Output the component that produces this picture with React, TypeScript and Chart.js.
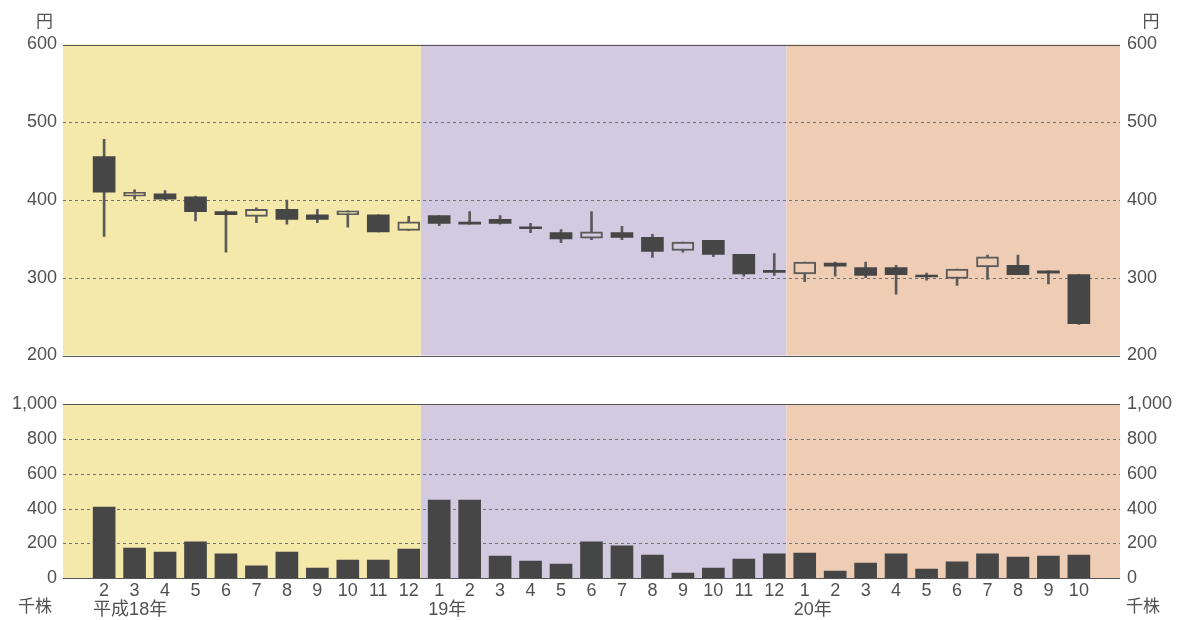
import React, { useEffect, useRef } from 'react';
import { Chart, registerables } from 'chart.js';

Chart.register(...registerables);

// ---- data ----
const months = ['2', '3', '4', '5', '6', '7', '8', '9', '10', '11', '12',
  '1', '2', '3', '4', '5', '6', '7', '8', '9', '10', '11', '12',
  '1', '2', '3', '4', '5', '6', '7', '8', '9', '10'];
const yearLabelIndex = [0, 11, 23];
const yearLabelText = ['平成18年', '19年', '20年'];

const openPrices = [456, 405, 408, 404, 385, 379, 388, 381, 381, 381, 361,
  380, 370, 375, 364, 358, 351, 358, 352, 335, 348, 330, 308,
  305, 319, 313, 313, 303, 299, 314, 316, 309, 304];
const highPrices = [478, 413, 412, 405, 387, 390, 400, 388, 386, 381, 379,
  380, 385, 380, 370, 362, 385, 366, 356, 346, 348, 330, 331,
  320, 320, 320, 316, 306, 311, 329, 329, 309, 304];
const lowPrices = [353, 401, 400, 373, 333, 371, 369, 371, 365, 359, 361,
  367, 369, 369, 358, 345, 349, 349, 326, 333, 327, 302, 303,
  295, 302, 300, 279, 297, 290, 298, 304, 292, 240];
const closePrices = [410, 410, 401, 385, 381, 388, 375, 375, 386, 359, 372,
  370, 369, 370, 363, 350, 359, 352, 334, 346, 330, 305, 307,
  320, 315, 303, 304, 301, 311, 327, 304, 306, 241];
const volumes = [410, 174, 151, 209, 140, 71, 151, 59, 105, 105, 168,
  450, 450, 128, 99, 82, 209, 186, 134, 30, 59, 111, 140,
  145, 42, 88, 140, 53, 94, 140, 122, 128, 134];

// ---- styling ----
const FONT = "'Liberation Sans', Arial, 'Noto Sans CJK JP', sans-serif";
const CJK_FONT = "'Noto Sans CJK JP', 'Liberation Sans', sans-serif";
const TEXT = '#505050';
const DARK = '#464646';
const LINE = '#555555';
const GRID = '#707070';

const X_MIN = -1.35;
const X_MAX = 33.35;
const BAND_EDGES = [X_MIN, 10.4, 22.4, X_MAX];
const BAND_COLORS = ['#F5E8AB', '#D1CAE0', '#EECDB4'];

function bandColor(i: number) {
  for (let k = 0; k < BAND_COLORS.length; k++) {
    if (i < BAND_EDGES[k + 1]) return BAND_COLORS[k];
  }
  return BAND_COLORS[BAND_COLORS.length - 1];
}

const W = 1177;
const TOP_H = 380;
const BOT_H = 240;

function panelPlugin(id: string, unit: string, unitDy: number, withX: boolean) {
  return {
    id,
    beforeDatasetsDraw(chart: any) {
      const { ctx, chartArea } = chart;
      const xs = chart.scales.x;
      const ys = chart.scales.y;
      ctx.save();
      for (let k = 0; k < BAND_COLORS.length; k++) {
        const x0 = Math.max(xs.getPixelForValue(BAND_EDGES[k]), chartArea.left);
        const x1 = Math.min(xs.getPixelForValue(BAND_EDGES[k + 1]), chartArea.right);
        ctx.fillStyle = BAND_COLORS[k];
        ctx.fillRect(x0, chartArea.top, x1 - x0, chartArea.bottom - chartArea.top);
      }
      ctx.strokeStyle = GRID;
      ctx.lineWidth = 1;
      ctx.setLineDash([3, 3]);
      const ticks = ys.ticks.map((t: any) => t.value);
      ticks.forEach((v: number) => {
        if (v === ys.min || v === ys.max) return;
        const y = Math.round(ys.getPixelForValue(v)) + 0.5;
        ctx.beginPath();
        ctx.moveTo(chartArea.left, y);
        ctx.lineTo(chartArea.right, y);
        ctx.stroke();
      });
      ctx.restore();
    },
    afterDatasetsDraw(chart: any) {
      const { ctx, chartArea } = chart;
      const xs = chart.scales.x;
      const ys = chart.scales.y;
      ctx.save();
      ctx.strokeStyle = LINE;
      ctx.lineWidth = 1.2;
      [ys.min, ys.max].forEach((v: number) => {
        const y = Math.round(ys.getPixelForValue(v)) + 0.5;
        ctx.beginPath();
        ctx.moveTo(chartArea.left, y);
        ctx.lineTo(chartArea.right, y);
        ctx.stroke();
      });
      ctx.fillStyle = TEXT;
      ctx.textBaseline = 'middle';
      ctx.textAlign = 'center';
      ctx.font = `17px ${CJK_FONT}`;
      const uy = unitDy < 0 ? chartArea.top + unitDy : chartArea.bottom + unitDy;
      const lx = unit === '円' ? chartArea.left - 18.5 : chartArea.left - 28;
      const rx = unit === '円' ? chartArea.right + 31 : chartArea.right + 23;
      ctx.fillText(unit, lx, uy);
      ctx.fillText(unit, rx, uy);
      if (withX) {
        ctx.font = `18px ${FONT}`;
        ctx.textAlign = 'center';
        months.forEach((m, i) => {
          ctx.fillText(m, xs.getPixelForValue(i), chartArea.bottom + 13);
        });
        ctx.textAlign = 'left';
        yearLabelIndex.forEach((idx, k) => {
          ctx.fillText(yearLabelText[k], xs.getPixelForValue(idx) - 11, chartArea.bottom + 32);
        });
      }
      ctx.restore();
    },
  };
}

function yAxis(position: 'left' | 'right', min: number, max: number, step: number, width: number, pad: number, fmt: (v: number) => string) {
  return {
    type: 'linear',
    position,
    min,
    max,
    grid: { display: false, drawTicks: false },
    border: { display: false },
    ticks: {
      stepSize: step,
      padding: pad,
      color: TEXT,
      font: { family: FONT, size: 18 },
      callback: (v: any) => fmt(Number(v)),
    },
    afterFit: (s: any) => { s.width = width; },
  };
}

const xAxis = { type: 'linear', min: X_MIN, max: X_MAX, display: false, offset: false, grid: { offset: false } };

export default function App() {
  const topRef = useRef<HTMLCanvasElement>(null);
  const botRef = useRef<HTMLCanvasElement>(null);

  useEffect(() => {
    const idx = months.map((_, i) => i);
    const isUp = (i: number) => closePrices[i] > openPrices[i];

    const top = new Chart(topRef.current as HTMLCanvasElement, {
      type: 'bar',
      data: {
        datasets: [
          {
            label: 'body',
            data: idx.map((i) => ({ x: i, y: [openPrices[i], closePrices[i]] })) as any,
            barThickness: 22,
            minBarLength: 2,
            grouped: false,
            borderSkipped: false,
            backgroundColor: (c: any) => (isUp(c.dataIndex) ? bandColor(c.dataIndex) : DARK),
            borderColor: '#5a5a5a',
            borderWidth: (c: any) => (isUp(c.dataIndex) ? 2 : 0),
          } as any,
          {
            label: 'wick',
            data: idx.map((i) => ({ x: i, y: [lowPrices[i], highPrices[i]] })) as any,
            barThickness: 2,
            grouped: false,
            borderSkipped: false,
            backgroundColor: '#5a5a5a',
            borderWidth: 0,
          } as any,
        ],
      },
      options: {
        animation: false,
        responsive: false,
        maintainAspectRatio: false,
        layout: { padding: { top: 44.5, bottom: TOP_H - 355.5, left: 0, right: 0 } },
        plugins: { legend: { display: false }, tooltip: { enabled: false } },
        scales: {
          x: xAxis as any,
          y: yAxis('left', 200, 600, 100, 63, 6, (v) => String(v)) as any,
          y2: yAxis('right', 200, 600, 100, W - 1120, 7, (v) => String(v)) as any,
        },
      },
      plugins: [panelPlugin('topPanel', '円', -24, false)],
    });

    const fmt = (v: number) => v.toLocaleString('en-US');
    const bot = new Chart(botRef.current as HTMLCanvasElement, {
      type: 'bar',
      data: {
        datasets: [
          {
            label: 'volume',
            data: idx.map((i) => ({ x: i, y: volumes[i] })) as any,
            barThickness: 22,
            backgroundColor: DARK,
            borderWidth: 0,
          } as any,
        ],
      },
      options: {
        animation: false,
        responsive: false,
        maintainAspectRatio: false,
        layout: { padding: { top: 404.3 - TOP_H, bottom: TOP_H + BOT_H - 578.3, left: 0, right: 0 } },
        plugins: { legend: { display: false }, tooltip: { enabled: false } },
        scales: {
          x: xAxis as any,
          y: yAxis('left', 0, 1000, 200, 63, 6, fmt) as any,
          y2: yAxis('right', 0, 1000, 200, W - 1120, 7, fmt) as any,
        },
      },
      plugins: [panelPlugin('botPanel', '千株', 27, true)],
    });

    return () => {
      top.destroy();
      bot.destroy();
    };
  }, []);

  return (
    <div style={{ position: 'absolute', left: 0, top: 0, width: W, height: TOP_H + BOT_H, background: '#fff' }}>
      <canvas ref={topRef} width={W} height={TOP_H}
        style={{ position: 'absolute', left: 0, top: 0, width: W, height: TOP_H, display: 'block' }} />
      <canvas ref={botRef} width={W} height={BOT_H}
        style={{ position: 'absolute', left: 0, top: TOP_H, width: W, height: BOT_H, display: 'block' }} />
    </div>
  );
}
